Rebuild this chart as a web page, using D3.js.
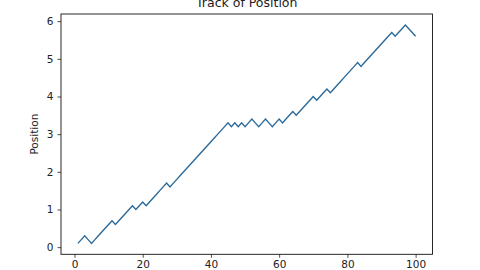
<!DOCTYPE html>
<html>
<head>
<meta charset="utf-8">
<script src="https://cdn.jsdelivr.net/npm/d3@7"></script>
<style>
  body { margin: 0; background: #fff; }
  text { font-family: "DejaVu Sans", sans-serif; fill: #222; }
</style>
</head>
<body>
<svg id="chart" width="480" height="270"></svg>
<script>
// step index (x) and position (y) of the walk
var steps = d3.range(1, 101);
var positions = [
    0.1, 0.2, 0.3, 0.2, 0.1, 0.2, 0.3, 0.4, 0.5, 0.6,
    0.7, 0.6, 0.7, 0.8, 0.9, 1.0, 1.1, 1.0, 1.1, 1.2,
    1.1, 1.2, 1.3, 1.4, 1.5, 1.6, 1.7, 1.6, 1.7, 1.8,
    1.9, 2.0, 2.1, 2.2, 2.3, 2.4, 2.5, 2.6, 2.7, 2.8,
    2.9, 3.0, 3.1, 3.2, 3.3, 3.2, 3.3, 3.2, 3.3, 3.2,
    3.3, 3.4, 3.3, 3.2, 3.3, 3.4, 3.3, 3.2, 3.3, 3.4,
    3.3, 3.4, 3.5, 3.6, 3.5, 3.6, 3.7, 3.8, 3.9, 4.0,
    3.9, 4.0, 4.1, 4.2, 4.1, 4.2, 4.3, 4.4, 4.5, 4.6,
    4.7, 4.8, 4.9, 4.8, 4.9, 5.0, 5.1, 5.2, 5.3, 5.4,
    5.5, 5.6, 5.7, 5.6, 5.7, 5.8, 5.9, 5.8, 5.7, 5.6
];
var xTicks = [0, 20, 40, 60, 80, 100];
var yTicks = [0, 1, 2, 3, 4, 5, 6];
var chartTitle = 'Track of Position';
var yLabel = 'Position';

var margin = {left: 61, right: 47.5, top: 14, bottom: 15.7};
var width = 480 - margin.left - margin.right;
var height = 270 - margin.top - margin.bottom;

var svg = d3.select('#chart');
var g = svg.append('g')
    .attr('transform', 'translate(' + margin.left + ',' + margin.top + ')');

// matplotlib style 5% padding round the data
var xExt = d3.extent(steps), yExt = d3.extent(positions);
var xPad = (xExt[1] - xExt[0]) * 0.05, yPad = (yExt[1] - yExt[0]) * 0.05;

var x = d3.scaleLinear()
    .domain([xExt[0] - xPad, xExt[1] + xPad])
    .range([0, width]);
var y = d3.scaleLinear()
    .domain([yExt[0] - yPad, yExt[1] + yPad])
    .range([height, 0]);

var xAxis = g.append('g')
    .attr('transform', 'translate(0,' + height + ')')
    .call(d3.axisBottom(x).tickValues(xTicks).tickFormat(d3.format('d')).tickSize(3.5).tickPadding(3));
var yAxis = g.append('g')
    .call(d3.axisLeft(y).tickValues(yTicks).tickFormat(d3.format('d')).tickSize(3.5).tickPadding(4));

[xAxis, yAxis].forEach(function (a) {
    a.select('.domain').remove();
    a.selectAll('text').style('font-size', '10.5px').attr('fill', '#222');
    a.selectAll('line').attr('stroke', '#222').attr('stroke-width', 0.8);
});

// frame
g.append('rect')
    .attr('width', width)
    .attr('height', height)
    .attr('fill', 'none')
    .attr('stroke', '#111')
    .attr('stroke-width', 0.9);

var line = d3.line()
    .x(function (d, i) { return x(steps[i]); })
    .y(function (d) { return y(d); });

g.append('path')
    .datum(positions)
    .attr('d', line)
    .attr('fill', 'none')
    .attr('stroke', '#2b6a99')
    .attr('stroke-width', 1.4)
    .attr('stroke-linejoin', 'miter');

svg.append('text')
    .attr('x', margin.left + width / 2)
    .attr('y', 7)
    .attr('text-anchor', 'middle')
    .style('font-size', '12.5px')
    .text(chartTitle);

svg.append('text')
    .attr('transform', 'translate(38,' + (margin.top + height / 2) + ') rotate(-90)')
    .attr('text-anchor', 'middle')
    .style('font-size', '10.5px')
    .text(yLabel);
</script>
</body>
</html>
